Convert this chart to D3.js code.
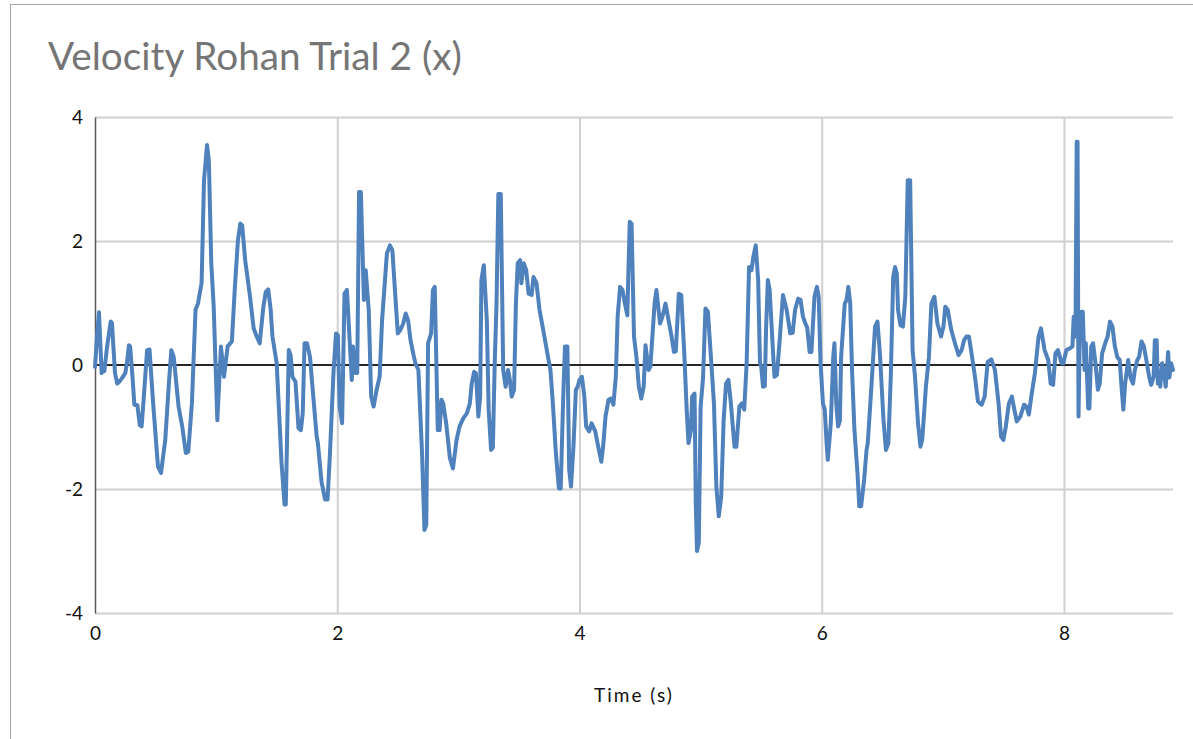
<!DOCTYPE html>
<html>
<head>
<meta charset="utf-8">
<script src="https://cdn.jsdelivr.net/npm/d3@7"></script>
<style>
  body { margin: 0; background: #fff; }
  svg { display: block; }
</style>
</head>
<body>
<div id="chart"></div>
<script>
// values
const timeS = [
  0.00, 0.02, 0.033, 0.045, 0.055, 0.068, 0.077, 0.10, 0.13, 0.14, 0.165, 0.184, 0.20, 0.22, 0.25, 0.265, 0.28, 0.29, 0.31, 0.325,
  0.35, 0.37, 0.385, 0.40, 0.43, 0.45, 0.48, 0.52, 0.545, 0.58, 0.61, 0.63, 0.65, 0.69, 0.72, 0.75, 0.77, 0.80, 0.83, 0.85,
  0.88, 0.90, 0.925, 0.94, 0.96, 0.98, 1.01, 1.04, 1.065, 1.095, 1.13, 1.155, 1.18, 1.20, 1.215, 1.24, 1.28, 1.31, 1.335, 1.36,
  1.39, 1.41, 1.43, 1.45, 1.465, 1.50, 1.54, 1.565, 1.575, 1.60, 1.615, 1.63, 1.655, 1.68, 1.70, 1.715, 1.73, 1.75, 1.775, 1.80,
  1.83, 1.84, 1.87, 1.90, 1.92, 1.94, 1.97, 1.99, 2.005, 2.02, 2.04, 2.06, 2.08, 2.105, 2.12, 2.13, 2.15, 2.165, 2.18, 2.195,
  2.22, 2.235, 2.26, 2.28, 2.30, 2.325, 2.35, 2.37, 2.41, 2.435, 2.455, 2.48, 2.50, 2.52, 2.545, 2.565, 2.585, 2.605, 2.63, 2.645,
  2.67, 2.70, 2.72, 2.735, 2.75, 2.775, 2.79, 2.805, 2.83, 2.845, 2.86, 2.875, 2.90, 2.93, 2.955, 2.985, 3.01, 3.04, 3.07, 3.095,
  3.11, 3.13, 3.145, 3.165, 3.18, 3.19, 3.21, 3.235, 3.25, 3.27, 3.285, 3.30, 3.315, 3.33, 3.35, 3.37, 3.39, 3.41, 3.425, 3.44,
  3.46, 3.475, 3.49, 3.51, 3.52, 3.54, 3.56, 3.58, 3.605, 3.62, 3.645, 3.67, 3.71, 3.74, 3.76, 3.78, 3.805, 3.83, 3.845, 3.865,
  3.88, 3.90, 3.915, 3.93, 3.95, 3.97, 3.985, 4.00, 4.02, 4.04, 4.055, 4.08, 4.10, 4.13, 4.155, 4.18, 4.195, 4.215, 4.24, 4.26,
  4.28, 4.30, 4.315, 4.335, 4.355, 4.375, 4.395, 4.405, 4.415, 4.43, 4.45, 4.47, 4.49, 4.51, 4.53, 4.545, 4.57, 4.585, 4.62, 4.635,
  4.665, 4.685, 4.71, 4.73, 4.76, 4.78, 4.795, 4.82, 4.84, 4.865, 4.885, 4.90, 4.92, 4.93, 4.95, 4.96, 4.97, 4.985, 5.00, 5.02,
  5.04, 5.06, 5.085, 5.11, 5.13, 5.15, 5.17, 5.19, 5.21, 5.23, 5.25, 5.28, 5.295, 5.32, 5.34, 5.36, 5.38, 5.40, 5.42, 5.435,
  5.455, 5.475, 5.49, 5.50, 5.515, 5.53, 5.54, 5.555, 5.57, 5.60, 5.61, 5.63, 5.655, 5.68, 5.71, 5.74, 5.76, 5.78, 5.805, 5.825,
  5.845, 5.865, 5.88, 5.90, 5.915, 5.94, 5.96, 5.975, 5.99, 6.01, 6.025, 6.04, 6.05, 6.075, 6.095, 6.105, 6.12, 6.135, 6.15, 6.16,
  6.19, 6.205, 6.22, 6.235, 6.25, 6.27, 6.295, 6.31, 6.325, 6.35, 6.37, 6.38, 6.41, 6.44, 6.46, 6.48, 6.51, 6.53, 6.55, 6.57,
  6.59, 6.605, 6.62, 6.63, 6.65, 6.67, 6.69, 6.71, 6.73, 6.75, 6.77, 6.795, 6.815, 6.83, 6.86, 6.885, 6.905, 6.93, 6.955, 6.985,
  7.005, 7.02, 7.04, 7.07, 7.10, 7.13, 7.155, 7.175, 7.195, 7.215, 7.235, 7.265, 7.29, 7.32, 7.345, 7.37, 7.40, 7.43, 7.46, 7.48,
  7.50, 7.52, 7.545, 7.57, 7.59, 7.61, 7.64, 7.67, 7.69, 7.71, 7.73, 7.76, 7.79, 7.81, 7.84, 7.87, 7.89, 7.91, 7.93, 7.95,
  7.98, 7.995, 8.02, 8.05, 8.07, 8.08, 8.095, 8.105, 8.112, 8.12, 8.13, 8.145, 8.155, 8.17, 8.18, 8.20, 8.21, 8.225, 8.24, 8.26,
  8.28, 8.295, 8.315, 8.34, 8.36, 8.38, 8.40, 8.42, 8.44, 8.46, 8.475, 8.49, 8.505, 8.53, 8.55, 8.57, 8.585, 8.605, 8.62, 8.64,
  8.66, 8.68, 8.705, 8.72, 8.74, 8.75, 8.765, 8.775, 8.785, 8.795, 8.81, 8.825, 8.84, 8.86, 8.87, 8.885, 8.90
]
const velocity = [
  -0.03, 0.55, 0.85, 0.30, -0.13, -0.05, -0.10, 0.30, 0.70, 0.68, -0.13, -0.30, -0.27, -0.22, -0.13, 0.05, 0.32, 0.30, -0.20, -0.64,
  -0.65, -0.97, -0.99, -0.60, 0.24, 0.25, -0.62, -1.64, -1.74, -1.21, -0.30, 0.24, 0.13, -0.67, -0.99, -1.42, -1.40, -0.62, 0.89, 0.99,
  1.32, 2.98, 3.55, 3.30, 1.64, 0.94, -0.89, 0.30, -0.19, 0.30, 0.38, 1.26, 2.01, 2.28, 2.25, 1.69, 1.10, 0.59, 0.46, 0.35,
  0.94, 1.18, 1.22, 0.90, 0.46, 0.03, -1.58, -2.25, -2.25, 0.24, 0.16, -0.19, -0.27, -1.02, -1.05, -0.78, 0.35, 0.35, 0.13, -0.46,
  -1.15, -1.26, -1.88, -2.17, -2.17, -1.42, -0.08, 0.51, 0.48, -0.67, -0.94, 1.15, 1.21, 0.30, -0.24, 0.30, -0.13, -0.13, 2.79, 2.79,
  1.05, 1.53, 0.89, -0.51, -0.67, -0.40, -0.19, 0.72, 1.80, 1.93, 1.85, 1.10, 0.51, 0.56, 0.67, 0.83, 0.72, 0.40, 0.16, 0.03,
  -0.08, -1.42, -2.66, -2.58, 0.35, 0.51, 1.21, 1.26, -1.05, -1.05, -0.56, -0.62, -0.95, -1.50, -1.67, -1.21, -0.99, -0.86, -0.78, -0.62,
  -0.30, -0.11, -0.13, -0.83, -0.51, 1.37, 1.61, 0.72, -0.72, -1.37, -1.33, 0.03, 0.99, 2.76, 2.76, -0.08, -0.35, -0.08, -0.24, -0.51,
  -0.40, 0.99, 1.64, 1.69, 1.32, 1.64, 1.53, 1.15, 1.13, 1.42, 1.32, 0.89, 0.46, 0.13, -0.08, -0.62, -1.42, -1.99, -1.99, -0.56,
  0.30, 0.30, -1.69, -1.96, -1.32, -0.40, -0.35, -0.24, -0.19, -0.51, -0.99, -1.07, -0.94, -1.07, -1.32, -1.56, -1.32, -0.83, -0.56, -0.54,
  -0.64, -0.19, 0.78, 1.26, 1.21, 0.99, 0.80, 1.60, 2.31, 2.28, 0.46, 0.13, -0.35, -0.54, -0.35, 0.32, -0.08, -0.03, 0.99, 1.21,
  0.67, 0.78, 0.99, 0.78, 0.46, 0.21, 0.22, 1.15, 1.13, 0.19, -0.72, -1.26, -1.05, -0.51, -0.46, -2.23, -3.00, -2.87, -0.67, -0.21,
  0.91, 0.86, 0.13, -0.62, -1.96, -2.44, -2.12, -0.89, -0.30, -0.24, -0.62, -1.32, -1.32, -0.67, -0.62, -0.72, 0.03, 1.58, 1.53, 1.74,
  1.93, 1.37, 0.03, -0.02, -0.35, -0.34, 0.56, 1.37, 1.21, 0.13, -0.19, -0.16, 0.46, 1.13, 0.89, 0.51, 0.52, 0.89, 1.07, 1.05,
  0.78, 0.67, 0.60, 0.21, 0.21, 1.10, 1.26, 1.10, 0.03, -0.62, -0.72, -1.26, -1.53, -0.94, 0.13, 0.35, -0.62, -0.99, -0.90, 0.13,
  0.99, 1.05, 1.26, 1.00, -0.08, -1.05, -1.74, -2.28, -2.28, -1.85, -1.37, -1.26, -0.35, 0.62, 0.70, 0.19, -0.89, -1.37, -1.26, -0.19,
  1.42, 1.58, 1.47, 0.89, 0.64, 0.62, 1.10, 2.98, 2.98, 0.24, -0.19, -0.94, -1.32, -1.20, -0.35, 0.13, 0.99, 1.10, 0.67, 0.46,
  0.62, 0.94, 0.89, 0.56, 0.35, 0.16, 0.24, 0.40, 0.46, 0.46, 0.21, -0.19, -0.59, -0.64, -0.51, 0.05, 0.09, -0.08, -0.62, -1.15,
  -1.21, -0.99, -0.62, -0.51, -0.72, -0.91, -0.83, -0.64, -0.67, -0.80, -0.51, -0.13, 0.46, 0.59, 0.24, 0.08, -0.30, -0.32, 0.19, 0.24,
  0.03, 0.03, 0.24, 0.27, 0.30, 0.78, 0.46, 3.60, 3.60, -0.83, 0.46, 0.86, 0.86, -0.08, 0.35, -0.70, -0.70, 0.30, 0.35, 0.03,
  -0.40, -0.30, 0.19, 0.35, 0.46, 0.70, 0.62, 0.30, 0.13, 0.08, -0.35, -0.72, -0.30, 0.08, -0.21, -0.30, -0.08, 0.08, 0.13, 0.38,
  0.30, 0.08, -0.21, -0.32, -0.19, 0.40, 0.40, -0.30, -0.15, -0.35, 0.03, -0.10, -0.35, 0.21, -0.20, 0.03, -0.08
]
const xTicks = [0, 2, 4, 6, 8]
const yTicks = [-4, -2, 0, 2, 4]
const chartTitle = 'Velocity Rohan Trial 2 (x)'
const xTitle = 'Time (s)'

const width = 1193
const height = 739
const margin = { top: 117, right: 20, bottom: 126, left: 95 }
const font = 'Lato, "Open Sans", sans-serif'

const points = timeS.map((t, i) => ({ t, v: velocity[i] }))

const svg = d3.select('#chart')
  .append('svg')
  .attr('width', width)
  .attr('height', height)

// outer chart border (runs off the right and bottom edges)
svg.append('rect')
  .attr('x', 10.5)
  .attr('y', 4.5)
  .attr('width', width + 20)
  .attr('height', height + 20)
  .attr('fill', 'none')
  .attr('stroke', '#a6a6a6')
  .attr('stroke-width', 1)

const x = d3.scaleLinear()
  .domain([0, 8.9])
  .range([margin.left, width - margin.right])

const y = d3.scaleLinear()
  .domain([-4, 4])
  .range([height - margin.bottom, margin.top])

// plain hyphen for negatives, like the original
const fmt = d => String(d)

// gridlines
svg.append('g')
  .attr('transform', `translate(0,${margin.top})`)
  .call(d3.axisBottom(x).tickValues(xTicks.slice(1)).tickSize(y(-4) - margin.top).tickFormat(''))
  .call(g => g.select('.domain').remove())
  .call(g => g.selectAll('line').attr('stroke', '#d0d0d0').attr('stroke-width', 2))

svg.append('g')
  .attr('transform', `translate(${margin.left},0)`)
  .call(d3.axisRight(y).tickValues(yTicks.filter(d => d !== 0)).tickSize(x(8.9) - margin.left).tickFormat(''))
  .call(g => g.select('.domain').remove())
  .call(g => g.selectAll('line').attr('stroke', '#d0d0d0').attr('stroke-width', 2))

// zero line
svg.append('line')
  .attr('x1', x(0))
  .attr('x2', x(8.9))
  .attr('y1', y(0))
  .attr('y2', y(0))
  .attr('stroke', '#262626')
  .attr('stroke-width', 1.8)

// y axis
svg.append('g')
  .attr('transform', `translate(${margin.left},0)`)
  .call(d3.axisLeft(y).tickValues(yTicks).tickFormat(fmt).tickSize(0).tickPadding(12))
  .call(g => g.select('.domain').attr('stroke', '#595959').attr('stroke-width', 1.5))
  .call(g => g.selectAll('text')
    .attr('font-family', font)
    .attr('font-size', 19)
    .attr('fill', '#111'))

// x axis labels
svg.append('g')
  .attr('transform', `translate(0,${y(-4)})`)
  .call(d3.axisBottom(x).tickValues(xTicks).tickFormat(fmt).tickSize(0).tickPadding(14))
  .call(g => g.select('.domain').remove())
  .call(g => g.selectAll('text')
    .attr('font-family', font)
    .attr('font-size', 19)
    .attr('fill', '#111'))

// the series
const line = d3.line()
  .x(d => x(d.t))
  .y(d => y(d.v))

svg.append('path')
  .datum(points)
  .attr('d', line)
  .attr('fill', 'none')
  .attr('stroke', '#4f81bd')
  .attr('stroke-width', 4)
  .attr('stroke-linejoin', 'round')
  .attr('stroke-linecap', 'round')

// titles
const title = svg.append('text')
  .text(chartTitle)
  .attr('x', 48)
  .attr('y', 70)
  .attr('font-family', font)
  .attr('font-size', 36)
  .attr('fill', '#757575')

// fit the title to the width seen in the reference
const tw = title.node().getComputedTextLength()
title.attr('font-size', 36 * 414 / tw)

svg.append('text')
  .text(xTitle)
  .attr('x', 634)
  .attr('y', 702)
  .attr('text-anchor', 'middle')
  .attr('font-family', font)
  .attr('font-size', 19)
  .attr('letter-spacing', 2)
  .attr('fill', '#111')
</script>
</body>
</html>
